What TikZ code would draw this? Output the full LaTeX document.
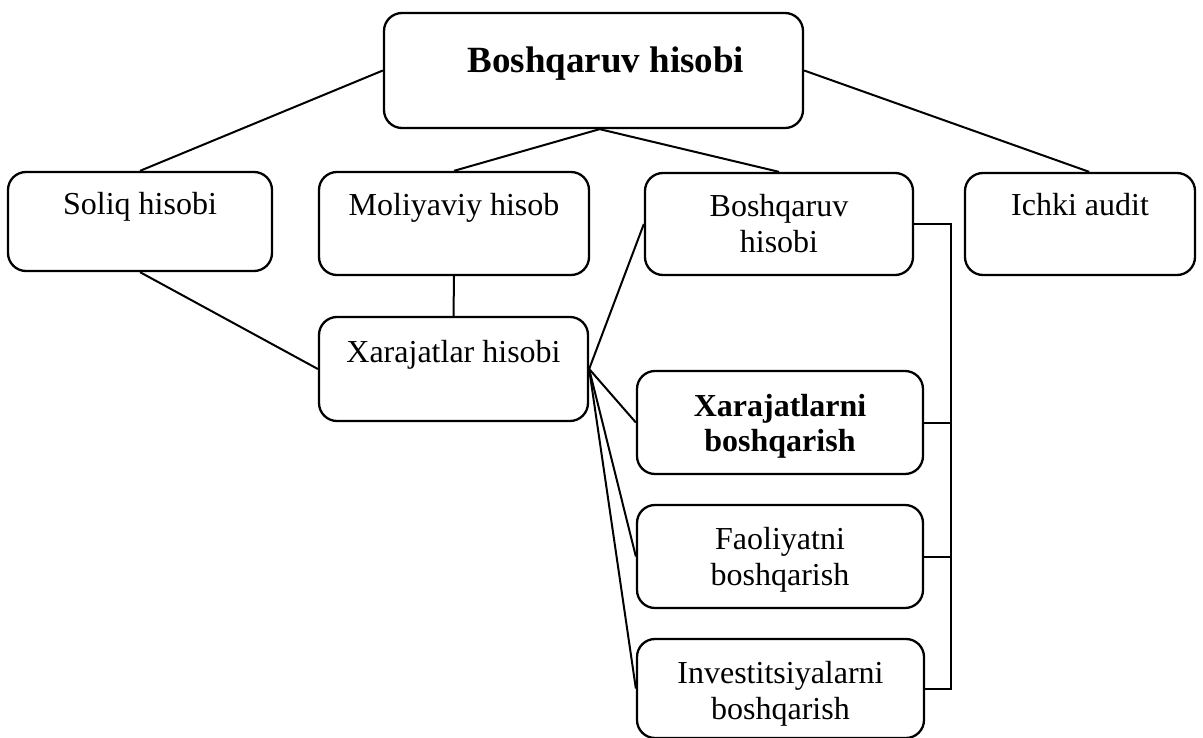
\documentclass[tikz,border=0pt]{standalone}
\usepackage{fontspec}
\setmainfont{Liberation Serif}
\usetikzlibrary{calc}

\tikzset{
  card/.style={draw=black, line width=2.3pt, rounded corners=18pt, inner sep=0pt, fill=white},
  txt/.style={anchor=base, inner sep=0pt, align=center, font=\fontsize{32}{36}\selectfont},
  btxt/.style={txt, font=\fontsize{32}{35}\selectfont\bfseries},
  link/.style={draw=black, line width=2pt},
}

\begin{document}
\begin{tikzpicture}[x=1pt, y=-1pt]
  \useasboundingbox (0,0) rectangle (1203,738);

  % boxes (centre, width, height)
  \node[card, minimum width=419pt, minimum height=115pt] (top)    at (593.5,70.5) {};
  \node[card, minimum width=264pt, minimum height=99pt]  (soliq)  at (140,221.5) {};
  \node[card, minimum width=270pt, minimum height=103pt] (moliya) at (454,223.5) {};
  \node[card, minimum width=268pt, minimum height=102pt] (bhisob) at (779,224) {};
  \node[card, minimum width=230pt, minimum height=102pt] (ichki)  at (1080,224) {};
  \node[card, minimum width=269pt, minimum height=104pt] (xhisob) at (453.5,369) {};
  \node[card, minimum width=286pt, minimum height=103pt] (xboshq) at (780,422.5) {};
  \node[card, minimum width=286pt, minimum height=103pt] (faol)   at (780,556.5) {};
  \node[card, minimum width=287pt, minimum height=99pt]  (invest) at (780.5,688.5) {};

  % labels, set near the top of each box (base = last line)
  \node[txt, font=\fontsize{37}{40}\selectfont\bfseries] (ttop) at (606,73) {Boshqaruv hisobi};
  \node[txt] (tsoliq)  at (140,215) {Soliq hisobi};
  \node[txt] (tmoliya) at (454,216) {Moliyaviy hisob};
  \node[txt] (tbhisob) at (779,253) {Boshqaruv\\hisobi};
  \node[txt] (tichki)  at (1080,216) {Ichki audit};
  \node[txt] (txhisob) at (453.5,362) {Xarajatlar hisobi};
  \node[btxt] (txboshq) at (780,451) {Xarajatlarni\\boshqarish};
  \node[txt] (tfaol)   at (780,585) {Faoliyatni\\boshqarish};
  \node[txt] (tinvest) at (780.5,719) {Investitsiyalarni\\boshqarish};

  % upper tree
  \draw[link] (top.west) -- (soliq.north);
  \draw[link] (top.east) -- (ichki.80);
  \draw[link] (top.-84) -- (moliya.north);
  \draw[link] (top.-84) -- (bhisob.north);

  % into Xarajatlar hisobi
  \draw[link] (moliya.south) -- (xhisob.north);
  \draw[link] (soliq.south) -- (xhisob.west);

  % fan from Xarajatlar hisobi
  \draw[link] (xhisob.east) -- (bhisob.west);
  \draw[link] (xhisob.east) -- (xboshq.west);
  \draw[link] (xhisob.east) -- (faol.west);
  \draw[link] (xhisob.east) -- (invest.west);

  % right-hand bracket
  \coordinate (rail) at (951,224);
  \draw[link] (bhisob.east) -- (rail) |- (invest.east);
  \draw[link] (xboshq.east) -- (xboshq.east -| rail);
  \draw[link] (faol.east) -- (faol.east -| rail);
\end{tikzpicture}
\end{document}
